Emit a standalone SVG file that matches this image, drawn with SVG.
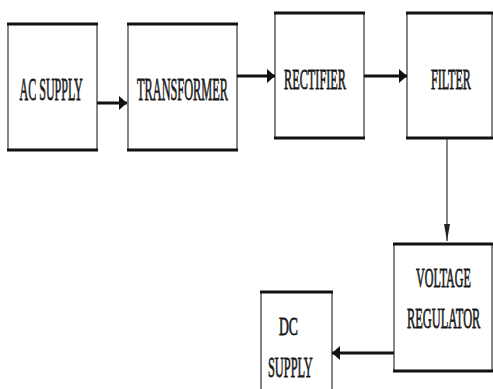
<svg xmlns="http://www.w3.org/2000/svg" width="493" height="389" viewBox="0 0 493 389">
<style>
.side{fill:#fff;stroke:#444;stroke-width:1.3}
.edge{stroke:#111;stroke-width:3}
.lbl{font-family:"Liberation Serif","Times New Roman",serif;fill:#1a1a1a;stroke:#1a1a1a;stroke-width:0.8}
.thick{stroke:#111;stroke-width:3;fill:none}
.thin{stroke:#333;stroke-width:1.2;fill:none}
</style>
<defs>
<marker id="ah" markerUnits="userSpaceOnUse" markerWidth="10" markerHeight="14" refX="8" refY="7" orient="auto">
<path d="M0,0 L8,7 L0,14 Z" fill="#111"/>
</marker>
<marker id="ahs" markerUnits="userSpaceOnUse" markerWidth="18" markerHeight="8" refX="17" refY="4" orient="auto">
<path d="M0,1 L17,4 L0,7 Z" fill="#222"/>
</marker>
</defs>
<rect width="493" height="389" fill="#fff"/>
<g id="ac-supply">
<rect class="side" x="8" y="24" width="89" height="126"/>
<line class="edge" x1="7" y1="24" x2="98" y2="24"/>
<line class="edge" x1="7" y1="150" x2="98" y2="150"/>
<text class="lbl" transform="translate(19.5,100) scale(0.376,1)" font-size="32">AC SUPPLY</text>
</g>
<g id="transformer">
<rect class="side" x="128" y="24" width="109" height="126"/>
<line class="edge" x1="127" y1="24" x2="238" y2="24"/>
<line class="edge" x1="127" y1="150" x2="238" y2="150"/>
<text class="lbl" transform="translate(137,100) scale(0.385,1)" font-size="32">TRANSFORMER</text>
</g>
<g id="rectifier">
<rect class="side" x="275" y="13" width="89" height="125"/>
<line class="edge" x1="274" y1="13" x2="365" y2="13"/>
<line class="edge" x1="274" y1="138" x2="365" y2="138"/>
<text class="lbl" transform="translate(284,89) scale(0.423,1)" font-size="29">RECTIFIER</text>
</g>
<g id="filter">
<rect class="side" x="407" y="13" width="85" height="125"/>
<line class="edge" x1="406" y1="13" x2="493" y2="13"/>
<line class="edge" x1="406" y1="138" x2="493" y2="138"/>
<text class="lbl" transform="translate(431,89) scale(0.417,1)" font-size="29">FILTER</text>
</g>
<g id="voltage-regulator">
<rect class="side" x="394" y="244" width="98" height="127"/>
<line class="edge" x1="393" y1="244" x2="493" y2="244"/>
<line class="edge" x1="393" y1="371" x2="493" y2="371"/>
<text class="lbl" transform="translate(416,287) scale(0.431,1)" font-size="28">VOLTAGE</text>
<text class="lbl" transform="translate(407,328) scale(0.413,1)" font-size="30">REGULATOR</text>
</g>
<g id="dc-supply">
<rect class="side" x="261" y="292" width="71" height="110"/>
<line class="edge" x1="260" y1="292" x2="333" y2="292"/>
<text class="lbl" transform="translate(279,335) scale(0.526,1)" font-size="26">DC</text>
<text class="lbl" transform="translate(268,377) scale(0.412,1)" font-size="30">SUPPLY</text>
</g>
<g id="connectors">
<line class="thick" x1="97" y1="103" x2="127" y2="103" marker-end="url(#ah)"/>
<line class="thick" x1="237" y1="76" x2="275" y2="76" marker-end="url(#ah)"/>
<line class="thick" x1="364" y1="76" x2="407" y2="76" marker-end="url(#ah)"/>
<line class="thin" x1="447" y1="139" x2="447" y2="241" marker-end="url(#ahs)"/>
<line class="thick" x1="394" y1="353" x2="332" y2="353" marker-end="url(#ah)"/>
</g>
</svg>
